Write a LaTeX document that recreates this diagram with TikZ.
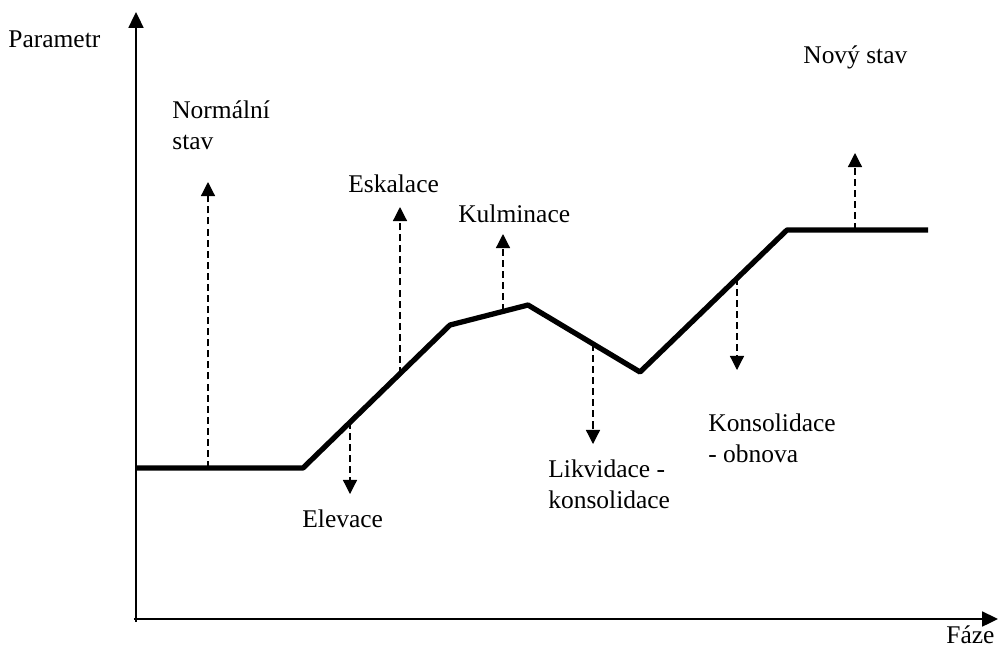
\documentclass[tikz,border=0pt]{standalone}
\usepackage{fontspec}
\setmainfont{Liberation Serif}
\usetikzlibrary{arrows.meta}

\begin{document}
\begin{tikzpicture}[x=0.02cm, y=-0.02cm,
    lbl/.style={anchor=base west, inner sep=0pt, align=left, font=\fontsize{14.5}{17.6}\selectfont},
    axis/.style={line width=1.1pt, -{Triangle[length=9pt,width=8.5pt]}},
    phase/.style={dash pattern=on 4pt off 2.3pt, line width=0.7pt, -{Triangle[length=8pt,width=8pt]}}]
    \useasboundingbox (0,0) rectangle (998,647);
    % axes
    \coordinate (O) at (136,620);
    \coordinate (ytop) at (136,12);
    \coordinate (xend) at (998,619);
    \draw[axis] (136,622) -- (ytop);
    \draw[axis] (134,619) -- (xend);
    \node[lbl] (param) at (8,47) {Parametr};
    \node[lbl] (faze) at (946,643.5) {Fáze};
    % course of the parameter
    \coordinate (p0) at (136,468);
    \coordinate (p1) at (303,468);
    \coordinate (p2) at (450,325);
    \coordinate (p3) at (528,305);
    \coordinate (p4) at (640,372);
    \coordinate (p5) at (787,230);
    \coordinate (p6) at (928,230);
    \draw[line width=3pt, line join=round] (p0) -- (p1) -- (p2) -- (p3) -- (p4) -- (p5) -- (p6);
    % phases
    \coordinate (normal) at (208,468);
    \coordinate (elev) at (350,422);
    \coordinate (eskal) at (400,374);
    \coordinate (kulm) at (503,311);
    \coordinate (likv) at (593,344);
    \coordinate (kons) at (737,278);
    \coordinate (novy) at (855,230);
    \coordinate (normaltip) at (208,182);
    \coordinate (elevtip) at (350,494);
    \coordinate (eskaltip) at (400,207);
    \coordinate (kulmtip) at (503,234);
    \coordinate (likvtip) at (593,444);
    \coordinate (konstip) at (737,370);
    \coordinate (novytip) at (855,153);
    \draw[phase] (normal) -- (normaltip);
    \draw[phase] (elev) -- (elevtip);
    \draw[phase] (eskal) -- (eskaltip);
    \draw[phase] (kulm) -- (kulmtip);
    \draw[phase] (likv) -- (likvtip);
    \draw[phase] (kons) -- (konstip);
    \draw[phase] (novy) -- (novytip);
    % labels (base = baseline of the last line)
    \node[lbl] (normallbl) at (172,149) {Normální\\stav};
    \node[lbl] (elevlbl) at (302,527) {Elevace};
    \node[lbl] (eskallbl) at (348,192) {Eskalace};
    \node[lbl] (kulmlbl) at (458,222) {Kulminace};
    \node[lbl] (likvlbl) at (548,508) {Likvidace -\\konsolidace};
    \node[lbl] (konslbl) at (708,462) {Konsolidace\\- obnova};
    \node[lbl] (novylbl) at (803,63) {Nový stav};
\end{tikzpicture}
\end{document}
